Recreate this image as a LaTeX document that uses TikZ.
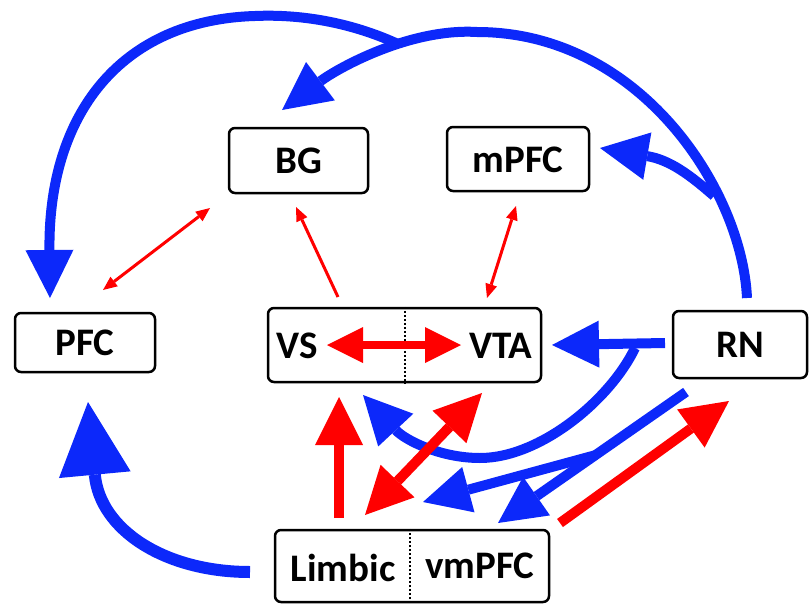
\documentclass[tikz,border=0pt]{standalone}
\usepackage{fontspec}
\setmainfont{Carlito}
\usetikzlibrary{arrows.meta}
\definecolor{myblue}{RGB}{12,40,250}
\definecolor{myred}{RGB}{255,0,0}
\begin{document}
\begin{tikzpicture}[x=1pt,y=-1pt,
  box/.style={draw=black, line width=2.5pt, rounded corners=6pt, inner sep=0pt},
  lbl/.style={font=\fontsize{39}{42}\selectfont\bfseries, inner sep=0pt},
  sep/.style={draw=black, line width=2pt, dotted},
  bluearr/.style={draw=myblue, line width=10pt, -{Triangle[length=#1,width=#1,line width=0pt]}},
  redarr/.style={draw=myred, line width=10pt, -{Triangle[length=#1,width=#1,line width=0pt]}},
  redtwo/.style={draw=myred, line width=10pt, {Triangle[length=#1,width=#1,line width=0pt]}-{Triangle[length=#1,width=#1,line width=0pt]}},
  thinone/.style={draw=myred, line width=3pt, -{Triangle[length=14pt,width=12pt,line width=0pt]}},
  thintwo/.style={draw=myred, line width=3pt, {Triangle[length=14pt,width=12pt,line width=0pt]}-{Triangle[length=14pt,width=12pt,line width=0pt]}}
]
\useasboundingbox (0,0) rectangle (809,605);

% boxes
\node[box, minimum width=139pt, minimum height=65pt] (BG) at (298.5,160.5) {};
\node[lbl] (BGt) at (298.5,161) {BG};
\node[box, minimum width=142pt, minimum height=64pt] (mPFC) at (518,159) {};
\node[lbl] (mPFCt) at (518,160) {mPFC};
\node[box, minimum width=140pt, minimum height=59pt] (PFC) at (85,342.5) {};
\node[lbl] (PFCt) at (85,343) {PFC};
\node[box, minimum width=273pt, minimum height=74pt] (VSVTA) at (404.5,345) {};
\node[lbl] (VS) at (297,346) {VS};
\node[lbl] (VTA) at (501,346) {VTA};
\draw[sep] (VSVTA.north) -- (VSVTA.south);
\node[box, minimum width=134pt, minimum height=67pt] (RN) at (740,344.5) {};
\node[lbl] (RNt) at (740,345) {RN};
\node[box, minimum width=274pt, minimum height=72pt] (LV) at (412,566) {};
\node[lbl] (Limbic) at (343,568) {Limbic};
\node[lbl] (vmPFC) at (480,566) {vmPFC};
\draw[sep] ([xshift=-2pt]LV.north) -- ([xshift=-2pt]LV.south);

% coordinates
\coordinate (rnTop) at (747,298);
\coordinate (bgTip) at (282,110);
\coordinate (peak) at (477,32);
\coordinate (j1) at (398,44);
\coordinate (pfcTop) at (255,16);
\coordinate (pfcTip) at (50,298);
\coordinate (mb) at (714,196);
\coordinate (mpfcTip) at (600,148);
\coordinate (limL) at (250,572);
\coordinate (pfcB) at (88,402);
\coordinate (rnL) at (665,343);
\coordinate (vtaTip) at (552,345);
\coordinate (c0) at (635,348);
\coordinate (cLow) at (480,458);
\coordinate (vsTip) at (363,395);
\coordinate (rnB) at (686,392);
\coordinate (lTip2) at (498,523);
\coordinate (j2) at (596,455);
\coordinate (lTip1) at (423,502);
\coordinate (lim1) at (339,518);
\coordinate (vsB) at (339,397);
\coordinate (lim2) at (365,515);
\coordinate (vtaB) at (482,393);
\coordinate (vm) at (560,523);
\coordinate (rnTipR) at (729,401);
\coordinate (vsL) at (327,345);
\coordinate (vtaR) at (461,345);
\coordinate (bgA) at (210,208);
\coordinate (pfcA) at (103,290);
\coordinate (vsA) at (338,297);
\coordinate (bgB) at (296,207);
\coordinate (mpfcA) at (516,206);
\coordinate (vtaA) at (487,298);

% blue connectors
\draw[bluearr=48pt] (rnTop) .. controls (742,190) and (640,32) .. (peak) .. controls (410,28) and (338,68) .. (bgTip);
\draw[bluearr=48pt] (j1) .. controls (350,22) and (300,14) .. (pfcTop) .. controls (120,20) and (48,115) .. (pfcTip);
\draw[bluearr=48pt] (mb) .. controls (690,175) and (670,160) .. (mpfcTip);
\draw[draw=myblue, line width=12pt, -{Triangle[length=73pt,width=72pt,line width=0pt]}] (limL) .. controls (165,572) and (100,530) .. (pfcB);
\draw[bluearr=47pt] (rnL) -- (vtaTip);
\draw[bluearr=48pt] (c0) .. controls (610,400) and (540,458) .. (cLow) .. controls (440,458) and (405,440) .. (vsTip);
\draw[bluearr=47pt] (rnB) -- (lTip2);
\draw[bluearr=47pt] (j2) -- (lTip1);

% red connectors
\draw[redarr=48pt] (lim1) -- (vsB);
\draw[redtwo=47pt] (lim2) -- (vtaB);
\draw[redarr=47pt] (vm) -- (rnTipR);
\draw[draw=myred, line width=8pt, {Triangle[length=36pt,width=36pt,line width=0pt]}-{Triangle[length=36pt,width=36pt,line width=0pt]}] (vsL) -- (vtaR);
\draw[thintwo] (pfcA) -- (bgA);
\draw[thinone] (vsA) -- (bgB);
\draw[thintwo] (vtaA) -- (mpfcA);
\end{tikzpicture}
\end{document}
